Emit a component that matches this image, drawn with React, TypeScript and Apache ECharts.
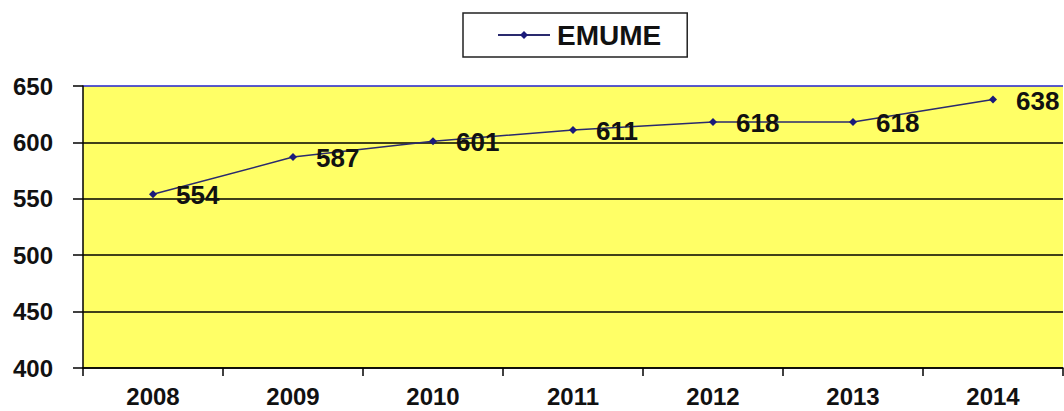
import React, { useEffect, useRef } from "react";
import * as echarts from "echarts";

const categories = ["2008", "2009", "2010", "2011", "2012", "2013", "2014"];
const emumeValues = [554, 587, 601, 611, 618, 618, 638];
const seriesName = "EMUME";

export default function App() {
  const ref = useRef<HTMLDivElement>(null);
  useEffect(() => {
    const chart = echarts.init(ref.current!, null, { renderer: "svg" });
    const font = "'Liberation Sans', Arial, sans-serif";
    chart.setOption({
      animation: false,
      textStyle: { fontFamily: font },
      legend: {
        data: [seriesName],
        top: 13,
        left: 463,
        itemWidth: 52,
        itemHeight: 10,
        itemGap: 6,
        padding: [8, 26, 8, 34],
        borderColor: "#222",
        borderWidth: 1.5,
        borderRadius: 0,
        textStyle: { fontSize: 28, fontWeight: "bold", color: "#111", fontFamily: font, padding: [0, 0, 0, 2] },
      },
      grid: {
        left: 83,
        right: 1,
        top: 86,
        bottom: 43,
        show: true,
        backgroundColor: "#ffff66",
        borderWidth: 0,
      },
      xAxis: {
        type: "category",
        data: categories,
        boundaryGap: true,
        axisLine: { lineStyle: { color: "#000", width: 1.5 } },
        axisTick: { show: true, alignWithLabel: false, length: 8, lineStyle: { color: "#000", width: 1.5 } },
        axisLabel: {
          fontSize: 24,
          lineHeight: 24,
          fontWeight: "bold",
          color: "#111",
          margin: 16,
          fontFamily: font,
        },
      },
      yAxis: {
        type: "value",
        min: 400,
        max: 650,
        interval: 50,
        axisLine: { show: true, lineStyle: { color: "#000", width: 1.5 } },
        axisTick: { show: true, length: 10, lineStyle: { color: "#000", width: 1.5 } },
        axisLabel: { fontSize: 24, fontWeight: "bold", color: "#111", margin: 30, fontFamily: font },
        splitLine: {
          show: true,
          lineStyle: { color: ["#000", "#000", "#000", "#000", "#000", "#2222cc"], width: 1.5 },
        },
      },
      series: [
        {
          name: seriesName,
          type: "line",
          data: emumeValues,
          symbol: "diamond",
          symbolSize: 8,
          itemStyle: { color: "#1a1a7a" },
          lineStyle: { color: "#2a2a6e", width: 1.5 },
          label: {
            show: true,
            position: "right",
            offset: [14, 1],
            fontSize: 26,
            fontWeight: "bold",
            color: "#111",
            fontFamily: font,
          },
        },
      ],
    });
    return () => chart.dispose();
  }, []);
  return (
    <div
      ref={ref}
      style={{ position: "absolute", left: 0, top: 0, width: 1064, height: 411, background: "#fff" }}
    />
  );
}
